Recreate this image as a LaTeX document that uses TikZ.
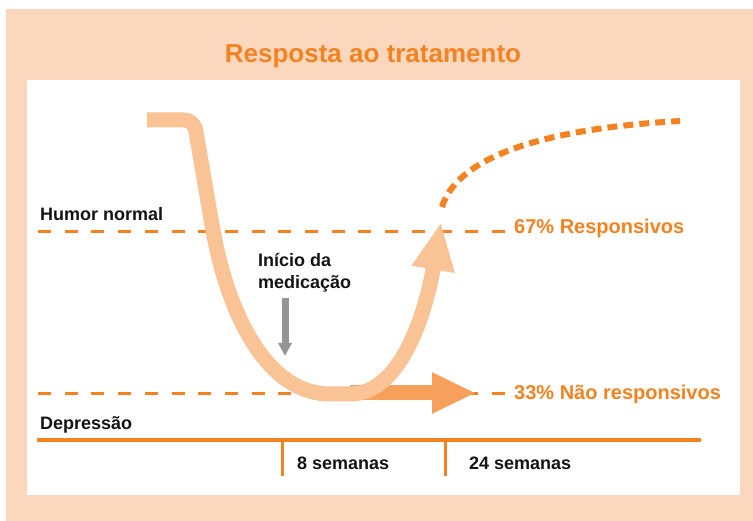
\documentclass[tikz,border=0pt]{standalone}
\usepackage{fontspec}
\setmainfont{Liberation Sans}
\usetikzlibrary{arrows.meta}
\definecolor{peach}{HTML}{FBD8BD}
\definecolor{laranja}{HTML}{F58220}
\definecolor{curva}{HTML}{F9C395}
\definecolor{seta}{HTML}{F7A05B}
\definecolor{cinza}{HTML}{939598}
\definecolor{texto}{HTML}{141414}
\tikzset{
  rotulo/.style={font=\fontsize{18}{22}\selectfont\bfseries, text=texto, inner sep=0pt},
  resposta/.style={font=\fontsize{20}{24}\selectfont\bfseries, text=laranja, inner sep=0pt, anchor=base west},
  tracejado/.style={laranja, line width=3pt, dash pattern=on 13pt off 13.7pt}
}
\begin{document}
\begin{tikzpicture}[x=1pt, y=-1pt, line join=round]
\def \largura{753};
\def \altura{521};
\useasboundingbox (0,0) rectangle (\largura,\altura);
\fill[peach] (6,9) rectangle (\largura,\altura);
\fill[white] (27,80) rectangle (740,495);
\node[font=\fontsize{26}{30}\selectfont\bfseries, text=laranja, anchor=base, inner sep=0pt] (titulo) at (373,63) {Resposta ao tratamento};
% niveis de humor
\node[rotulo, anchor=base west] (normal) at (40,221) {Humor normal};
\node[rotulo, anchor=base west] (depressao) at (40,430) {Depressão};
\node[resposta] (resp) at (514,234) {67\% Responsivos};
\node[resposta] (naoresp) at (514,400) {33\% Não responsivos};
\foreach \y/\n in {232/a, 394/b}{
  \coordinate (ini\n) at (38,\y);
  \coordinate (fim\n) at (505,\y);
  \draw[tracejado] (ini\n) -- (fim\n);}
% eixo do tempo
\coordinate (eixoA) at (37,440);
\coordinate (eixoB) at (701,440);
\draw[laranja, line width=3.5pt] (eixoA) -- (eixoB);
\foreach \x/\d/\t/\n in {282/15/8 semanas/oito, 445/24/24 semanas/vinte}{
  \draw[laranja, line width=3pt] (\x,440) -- (\x,476);
  \node[rotulo, anchor=base west] (\n) at (\x+\d,469) {\t};}
% inicio da medicacao
\node[rotulo, anchor=base west] (medA) at (258,267) {Início da};
\node[rotulo, anchor=base west] (medB) at (258,289) {medicação};
\coordinate (medTopo) at (285,298);
\coordinate (medPonta) at (285,356);
\draw[cinza, line width=7pt, -{Triangle[width=13pt,length=13pt]}] (medTopo) -- (medPonta);
% nao responsivos
\coordinate (nrA) at (350,393);
\coordinate (nrB) at (476,393);
\draw[seta, line width=15pt, -{Triangle[width=38pt,length=44pt]}] (nrA) -- (nrB);
% curva de resposta
\coordinate (c0) at (147,120);
\coordinate (c1) at (194,120);
\coordinate (c2) at (212,225);
\coordinate (c3) at (340,394);
\coordinate (c4) at (441,222);
\draw[curva, line width=15pt, rounded corners=10pt, -{Triangle[width=40pt,length=48pt]}]
  (c0) -- (c1) -- (c2) .. controls (228,310) and (265,394) .. (c3)
  .. controls (405,394) and (428,300) .. (c4);
% responsivos
\coordinate (r0) at (442,207);
\coordinate (r1) at (680,121);
\draw[laranja, line width=6pt, dash pattern=on 10pt off 6pt] (r0) .. controls (455,165) and (520,130) .. (r1);
\end{tikzpicture}
\end{document}
